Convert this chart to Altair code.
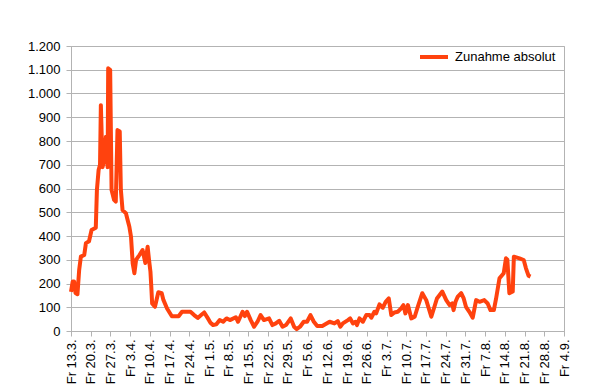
import altair as alt
import pandas as pd

# Tage seit Fr 13.3. (Ablesewerte, mehrere Werte pro Tag möglich)
tage = [0.0, 0.6, 1.1, 1.6, 2.3, 2.9, 3.5, 4.7, 5.3, 6.4, 7.3, 8.8, 9.2, 9.8, 10.3, 10.6,
        11.2, 11.8, 12.4, 13.0, 13.2, 13.9, 14.4, 15.3, 15.9, 16.5, 17.3, 17.7, 18.3, 19.5,
        20.1, 20.7, 21.3, 21.9, 22.5, 23.1, 24.3, 25.4, 26.4, 27.2, 27.7, 28.2, 28.5, 28.8,
        29.8, 31.0, 32.2, 32.8, 34.1, 35.8, 38.2, 39.4, 42.4, 43.7, 45.0, 46.2, 47.3, 48.6,
        49.5, 50.4, 51.6, 52.8, 54.0, 55.2, 56.4, 58.5, 59.3, 60.9, 61.7, 62.5, 63.8, 65.0,
        66.2, 67.3, 68.5, 70.3, 71.5, 72.7, 73.9, 75.1, 76.3, 78.0, 79.2, 80.1, 81.3, 82.6,
        83.8, 85.0, 86.2, 87.4, 89.2, 91.8, 93.5, 94.7, 95.6, 96.5, 98.3, 99.1, 100.1, 101.0,
        101.5, 102.4, 103.6, 104.8, 106.0, 106.6, 107.7, 108.3, 109.5, 110.7, 111.7, 112.8,
        113.7, 114.8, 116.0, 117.2, 118.0, 118.7, 119.6, 120.8, 122.0, 123.1, 124.7, 126.1,
        127.9, 129.0, 129.9, 131.8, 133.2, 134.4, 135.3, 135.8, 136.5, 137.3, 138.5, 139.4,
        140.2, 141.4, 142.6, 143.8, 145.0, 146.7, 147.9, 148.9, 150.1, 150.9, 152.1, 153.6,
        154.4, 154.9, 155.6, 156.8, 157.2, 159.2, 160.7, 161.5, 162.4, 163.1]
werte = [165, 208, 208, 160, 155, 257, 313, 320, 370, 378, 425, 435, 594, 678, 700, 951,
         690, 720, 818, 690, 1106, 1100, 594, 552, 545, 846, 840, 594, 509, 496,
         467, 440, 397, 285, 243, 299, 320, 341, 286, 355, 299, 250, 187, 116,
         102, 163, 159, 131, 95, 62, 62, 81, 81, 67, 55, 67, 78, 53,
         35, 25, 28, 46, 39, 53, 46, 58, 39, 81, 63, 81, 46, 18,
         39, 67, 46, 53, 25, 32, 43, 18, 25, 53, 18, 8, 18, 39,
         39, 67, 39, 21, 21, 39, 32, 42, 18, 32, 46, 53, 32, 39,
         25, 53, 39, 67, 67, 56, 81, 74, 112, 98, 123, 137,
         67, 78, 81, 95, 109, 74, 109, 53, 60, 102, 159, 130,
         60, 102, 137, 166, 130, 109, 116, 88, 123, 145, 159, 137,
         102, 81, 56, 130, 123, 130, 116, 88, 88, 137, 222, 243,
         306, 300, 159, 166, 313, 306, 299, 264, 233, 229]

x_labels = ["Fr 13.3.", "Fr 20.3.", "Fr 27.3.", "Fr 3.4.", "Fr 10.4.", "Fr 17.4.", "Fr 24.4.",
            "Fr 1.5.", "Fr 8.5.", "Fr 15.5.", "Fr 22.5.", "Fr 29.5.", "Fr 5.6.", "Fr 12.6.",
            "Fr 19.6.", "Fr 26.6.", "Fr 3.7.", "Fr 10.7.", "Fr 17.7.", "Fr 24.7.", "Fr 31.7.",
            "Fr 7.8.", "Fr 14.8.", "Fr 21.8.", "Fr 28.8.", "Fr 4.9."]
x_ticks = [7 * i for i in range(len(x_labels))]
y_ticks = list(range(0, 1201, 100))
serie = "Zunahme absolut"

df = pd.DataFrame({"Tag": tage, "Zunahme": werte, "Serie": serie})

label_arr = "[" + ",".join("'" + s + "'" for s in x_labels) + "]"
FONT = "Liberation Sans"
GRID = "#b3b3b3"

chart = alt.Chart(df).mark_line(strokeWidth=4, strokeJoin="round").encode(
    x=alt.X("Tag:Q",
            scale=alt.Scale(domain=[0, 175], nice=False, zero=False),
            axis=alt.Axis(values=x_ticks, labelExpr=label_arr + "[round(datum.value/7)]",
                          labelAngle=-90, grid=False, title=None, domainColor=GRID,
                          tickColor=GRID, tickSize=5, labelPadding=3,
                          labelFont=FONT, labelFontSize=13, labelColor="#000000")),
    y=alt.Y("Zunahme:Q",
            scale=alt.Scale(domain=[0, 1200], nice=False),
            axis=alt.Axis(values=y_ticks,
                          labelExpr="replace(format(datum.value, ','), ',', '.')",
                          grid=True, gridColor=GRID, title=None, domainColor=GRID,
                          tickColor=GRID, tickSize=5, labelPadding=6,
                          labelFont=FONT, labelFontSize=13, labelColor="#000000")),
    color=alt.Color("Serie:N", scale=alt.Scale(range=["#ff420e"]),
                    legend=alt.Legend(title=None, orient="none", legendX=347, legendY=-5,
                                      symbolType="stroke", symbolStrokeWidth=4,
                                      symbolSize=784, labelOffset=5, padding=0,
                                      labelFont=FONT, labelFontSize=13,
                                      labelColor="#000000")),
).properties(
    width=493, height=285,
    autosize=alt.AutoSizeParams(type="none"),
    padding={"left": 63, "top": 38, "right": 32, "bottom": 53},
).configure_view(stroke=GRID, strokeWidth=1)

chart.save("out.html", embed_options={"renderer": "svg", "actions": False})
